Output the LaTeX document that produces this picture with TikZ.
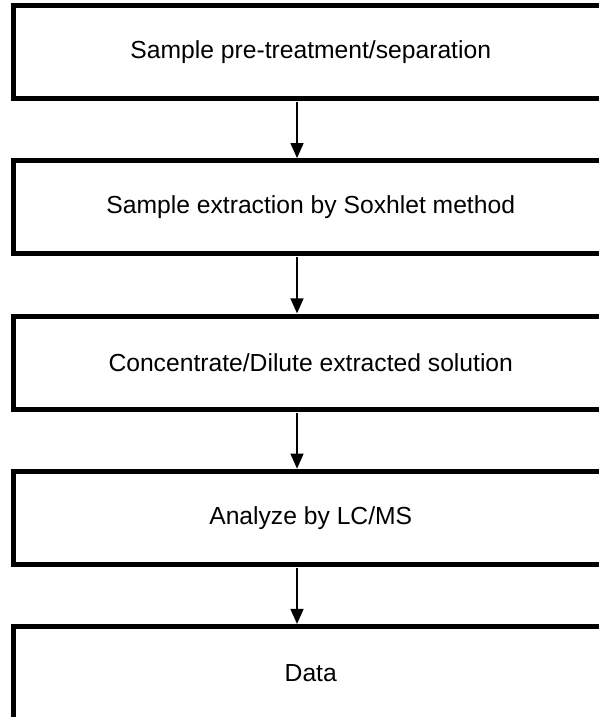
\documentclass[tikz,border=0pt]{standalone}
\usepackage{fontspec}
\setmainfont{Liberation Sans}
\usetikzlibrary{positioning,arrows.meta}
\begin{document}
\begin{tikzpicture}[x=0.75pt,y=-0.75pt]

\tikzstyle{stepbox}=[rectangle,draw=black,line width=3.75pt,minimum width=445.9pt,minimum height=69.75pt,outer sep=0pt,inner sep=0pt,font=\fontsize{18.5}{22}\selectfont]
\tikzstyle{flow}=[-{Triangle[length=11.25pt,width=9.75pt]},line width=1.1pt,shorten <=2.6pt,shorten >=2pt]

\useasboundingbox (0,0) rectangle (599,717);
\clip (0,0) rectangle (599,717);

%process steps.
\node[stepbox] (pretreat) at (310.75,52) {Sample pre-treatment/separation};
\node[stepbox,below=46.7pt of pretreat] (extract) {Sample extraction by Soxhlet method};
\node[stepbox,below=46.7pt of extract] (concentrate) {Concentrate/Dilute extracted solution};
\node[stepbox,below=46.7pt of concentrate] (analyze) {Analyze by LC/MS};
\node[stepbox,below=46.7pt of analyze] (data) {Data};

\draw [flow] ([xshift=-10.3pt]pretreat.south) -- ([xshift=-10.3pt]extract.north);
\draw [flow] ([xshift=-10.3pt]extract.south) -- ([xshift=-10.3pt]concentrate.north);
\draw [flow] ([xshift=-10.3pt]concentrate.south) -- ([xshift=-10.3pt]analyze.north);
\draw [flow] ([xshift=-10.3pt]analyze.south) -- ([xshift=-10.3pt]data.north);

\end{tikzpicture}
\end{document}
